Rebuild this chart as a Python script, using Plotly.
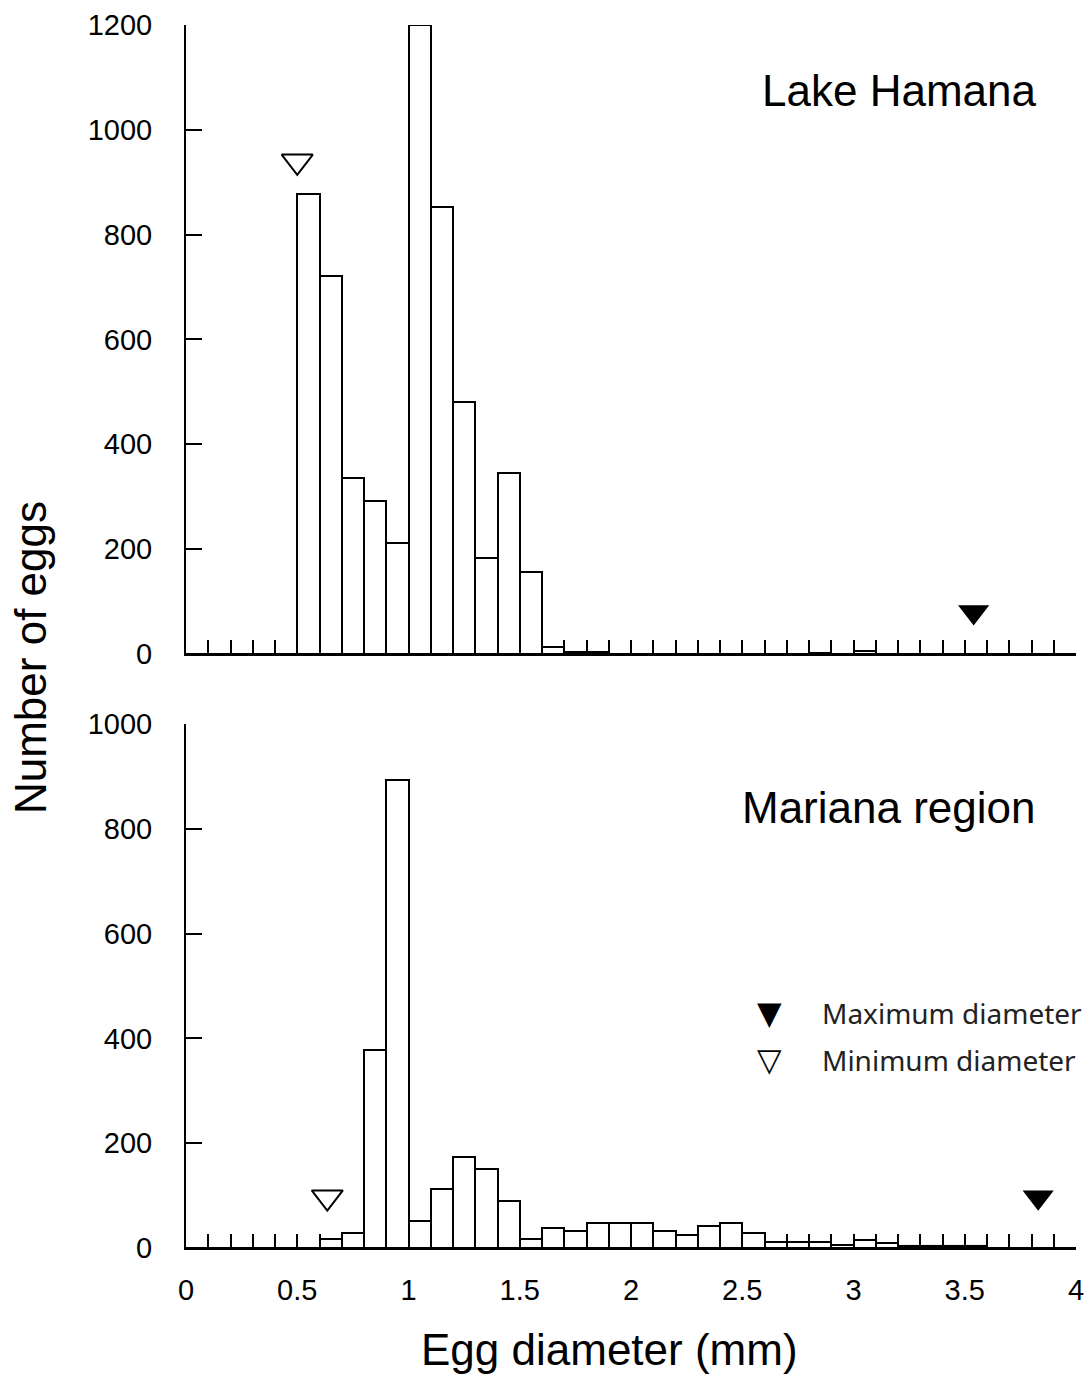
import numpy as np
import plotly.graph_objects as go

# Histogram bins: 0.1 mm wide, labelled by their lower edge
bin_starts = [round(0.1 * i, 1) for i in range(40)]
bin_width = 0.1

# Lake Hamana counts per bin (0.0-4.0 mm)
hamana_counts = [0, 0, 0, 0, 0, 877, 721, 335, 292, 212,
                 1200, 853, 480, 183, 345, 156, 14, 3, 3, 0,
                 0, 0, 0, 0, 0, 0, 0, 0, 2, 0,
                 5, 0, 0, 0, 0, 0, 0, 0, 0, 0]

# Mariana region counts per bin (0.0-4.0 mm)
mariana_counts = [0, 0, 0, 0, 0, 0, 18, 28, 378, 893,
                  52, 113, 174, 151, 89, 18, 38, 33, 48, 48,
                  48, 33, 24, 43, 48, 29, 11, 11, 11, 5,
                  15, 10, 4, 4, 4, 4, 0, 0, 0, 0]

# Minimum / maximum egg diameters (x) and marker heights (y)
hamana_min = (0.50, 940)
hamana_max = (3.54, 80)
mariana_min = (0.635, 97)
mariana_max = (3.83, 97)

x_tick_vals = [round(0.1 * i, 1) for i in range(41)]
x_tick_labels = ["0" if v == 0 else (f"{v:g}" if abs(v * 2 - round(v * 2)) < 1e-9 else "")
                 for v in x_tick_vals]
hamana_y_ticks = [0, 200, 400, 600, 800, 1000, 1200]
mariana_y_ticks = [0, 200, 400, 600, 800, 1000]

TEXT_FONT = "Liberation Sans, Arial, Helvetica, sans-serif"
LEGEND_FONT = "Noto Sans, Open Sans, sans-serif"

fig = go.Figure()

bar_style = dict(marker=dict(color="white", line=dict(color="black", width=2)),
                 width=bin_width, offset=0, showlegend=False, hoverinfo="x+y")

fig.add_trace(go.Bar(x=bin_starts, y=hamana_counts, xaxis="x", yaxis="y", **bar_style))
fig.add_trace(go.Bar(x=bin_starts, y=mariana_counts, xaxis="x2", yaxis="y2", **bar_style))

tri = 27
fig.add_trace(go.Scatter(x=[hamana_min[0]], y=[hamana_min[1]], mode="markers", xaxis="x", yaxis="y",
                         marker=dict(symbol="triangle-down-open", size=tri, color="black", line=dict(width=2)),
                         showlegend=False, cliponaxis=False))
fig.add_trace(go.Scatter(x=[hamana_max[0]], y=[hamana_max[1]], mode="markers", xaxis="x", yaxis="y",
                         marker=dict(symbol="triangle-down", size=tri, color="black"),
                         showlegend=False, cliponaxis=False))
fig.add_trace(go.Scatter(x=[mariana_min[0]], y=[mariana_min[1]], mode="markers", xaxis="x2", yaxis="y2",
                         marker=dict(symbol="triangle-down-open", size=tri, color="black", line=dict(width=2)),
                         showlegend=False, cliponaxis=False))
fig.add_trace(go.Scatter(x=[mariana_max[0]], y=[mariana_max[1]], mode="markers", xaxis="x2", yaxis="y2",
                         marker=dict(symbol="triangle-down", size=tri, color="black"),
                         showlegend=False, cliponaxis=False))

xaxis_common = dict(range=[0, 4], tickmode="array", tickvals=x_tick_vals,
                    ticks="inside", ticklen=14, tickwidth=2, tickcolor="black",
                    showline=True, linecolor="black", linewidth=2,
                    showgrid=False, zeroline=False, mirror=False, automargin=False,
                    tickfont=dict(family=TEXT_FONT, size=29, color="black"))
yaxis_common = dict(ticks="inside", ticklen=16, tickwidth=2, tickcolor="black",
                    showline=True, linecolor="black", linewidth=2,
                    showgrid=False, zeroline=False, tickmode="array", automargin=False,
                    ticklabelstandoff=26,
                    tickfont=dict(family=TEXT_FONT, size=29, color="black"))

fig.update_layout(
    width=1088, height=1376,
    margin=dict(l=186, r=12, t=25, b=128),
    paper_bgcolor="white", plot_bgcolor="white",
    bargap=0,
    xaxis=dict(domain=[0, 1], anchor="y", ticktext=[""] * len(x_tick_vals), **xaxis_common),
    yaxis=dict(domain=[0.4857, 1.0], anchor="x", range=[0, 1200],
               tickvals=hamana_y_ticks, **yaxis_common),
    xaxis2=dict(domain=[0, 1], anchor="y2", ticktext=x_tick_labels,
                ticklabelstandoff=15, **xaxis_common),
    yaxis2=dict(domain=[0, 0.4285], anchor="x2", range=[0, 1000],
                tickvals=mariana_y_ticks, **yaxis_common),
    showlegend=False,
)

annotations = [
    dict(text="Number of eggs", xref="paper", yref="paper", x=-0.1753, y=0.4832,
         textangle=-90, showarrow=False, xanchor="center", yanchor="middle",
         font=dict(family=TEXT_FONT, size=44, color="black")),
    dict(text="Egg diameter (mm)", xref="paper", yref="paper", x=0.476, y=-0.0834,
         showarrow=False, xanchor="center", yanchor="middle",
         font=dict(family=TEXT_FONT, size=44, color="black")),
    dict(text="Lake Hamana", xref="paper", yref="paper", x=0.957, y=0.9468,
         showarrow=False, xanchor="right", yanchor="middle",
         font=dict(family=TEXT_FONT, size=44, color="black")),
    dict(text="Mariana region", xref="paper", yref="paper", x=0.957, y=0.3598,
         showarrow=False, xanchor="right", yanchor="middle",
         font=dict(family=TEXT_FONT, size=44, color="black")),
    # legend keys and labels
    dict(text="▼", xref="paper", yref="paper", x=0.656, y=0.1922,
         showarrow=False, xanchor="center", yanchor="middle",
         font=dict(family="DejaVu Sans", size=32, color="black")),
    dict(text="▽", xref="paper", yref="paper", x=0.656, y=0.1537,
         showarrow=False, xanchor="center", yanchor="middle",
         font=dict(family="DejaVu Sans", size=32, color="black")),
    dict(text="Maximum diameter", xref="paper", yref="paper", x=0.7124, y=0.1922,
         showarrow=False, xanchor="left", yanchor="middle",
         font=dict(family=LEGEND_FONT, size=28, color="#222222")),
    dict(text="Minimum diameter", xref="paper", yref="paper", x=0.7124, y=0.1537,
         showarrow=False, xanchor="left", yanchor="middle",
         font=dict(family=LEGEND_FONT, size=28, color="#222222")),
]
fig.update_layout(annotations=annotations)

fig.write_html("out.html")
